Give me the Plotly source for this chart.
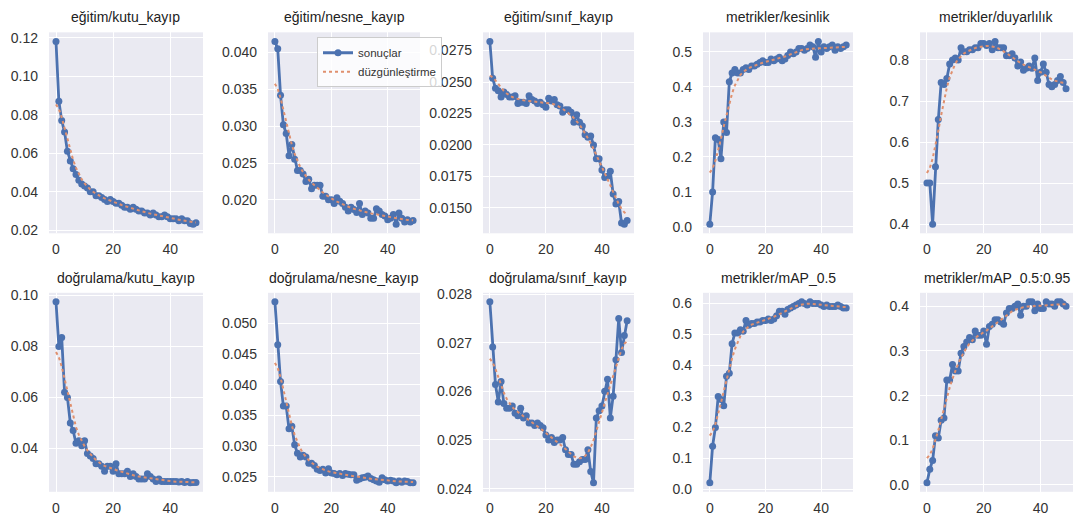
import numpy as np
import plotly.graph_objects as go

epochs = list(range(50))

titles = ["eğitim/kutu_kayıp", "eğitim/nesne_kayıp", "eğitim/sınıf_kayıp",
          "metrikler/kesinlik", "metrikler/duyarlılık",
          "doğrulama/kutu_kayıp", "doğrulama/nesne_kayıp", "doğrulama/sınıf_kayıp",
          "metrikler/mAP_0.5", "metrikler/mAP_0.5:0.95"]

train_box = [0.118, 0.087, 0.077, 0.071, 0.061, 0.056, 0.052, 0.049, 0.046, 0.044,
             0.043, 0.042, 0.040, 0.040, 0.038, 0.038, 0.037, 0.036, 0.035, 0.036,
             0.035, 0.034, 0.034, 0.033, 0.032, 0.032, 0.031, 0.032, 0.031, 0.030,
             0.030, 0.029, 0.029, 0.028, 0.029, 0.028, 0.027, 0.027, 0.028, 0.027,
             0.026, 0.026, 0.026, 0.025, 0.026, 0.025, 0.025, 0.0235, 0.0232, 0.024]
train_obj = [0.0415, 0.0405, 0.0342, 0.0302, 0.029, 0.026, 0.0275, 0.0255, 0.024, 0.024,
             0.0235, 0.0225, 0.0228, 0.0215, 0.022, 0.022, 0.022, 0.0205, 0.0205, 0.020,
             0.020, 0.0195, 0.0203, 0.0198, 0.0195, 0.019, 0.0185, 0.019, 0.0187, 0.0183,
             0.0195, 0.018, 0.0185, 0.0182, 0.0175, 0.0175, 0.0188, 0.0185, 0.018, 0.0178,
             0.0173, 0.0175, 0.018, 0.0167, 0.0182, 0.0175, 0.017, 0.0173, 0.017, 0.0172]
train_cls = [0.02822, 0.0253, 0.0245, 0.0243, 0.0238, 0.0242, 0.0240, 0.0238, 0.0238, 0.0239,
             0.0233, 0.0234, 0.0234, 0.0233, 0.0239, 0.0236, 0.0235, 0.0233, 0.0234, 0.0232,
             0.0230, 0.0237, 0.0235, 0.0236, 0.0232, 0.0231, 0.0226, 0.0228, 0.0228, 0.0226,
             0.0218, 0.0224, 0.0218, 0.0215, 0.0208, 0.0206, 0.0207, 0.0200, 0.0189, 0.0189,
             0.0180, 0.0174, 0.0175, 0.0179, 0.0161, 0.0153, 0.0155, 0.0138, 0.0137, 0.0140]
precision = [0.008, 0.10, 0.255, 0.25, 0.195, 0.30, 0.27, 0.415, 0.44, 0.45,
             0.44, 0.44, 0.45, 0.455, 0.45, 0.46, 0.46, 0.465, 0.47, 0.475,
             0.47, 0.47, 0.48, 0.475, 0.48, 0.485, 0.475, 0.48, 0.49, 0.50,
             0.495, 0.50, 0.51, 0.51, 0.505, 0.51, 0.52, 0.515, 0.485, 0.53,
             0.50, 0.515, 0.51, 0.515, 0.52, 0.505, 0.515, 0.51, 0.515, 0.52]
recall = [0.50, 0.50, 0.40, 0.54, 0.655, 0.745, 0.74, 0.755, 0.79, 0.80,
          0.805, 0.80, 0.83, 0.82, 0.82, 0.825, 0.825, 0.83, 0.83, 0.84,
          0.84, 0.835, 0.84, 0.825, 0.845, 0.83, 0.83, 0.83, 0.81, 0.81,
          0.815, 0.805, 0.785, 0.795, 0.775, 0.78, 0.785, 0.78, 0.805, 0.75,
          0.77, 0.79, 0.77, 0.74, 0.735, 0.74, 0.75, 0.76, 0.745, 0.73]
val_box = [0.0975, 0.080, 0.0835, 0.062, 0.060, 0.050, 0.047, 0.042, 0.043, 0.041,
           0.043, 0.038, 0.037, 0.036, 0.034, 0.034, 0.033, 0.031, 0.033, 0.033,
           0.031, 0.034, 0.030, 0.030, 0.030, 0.031, 0.029, 0.030, 0.029, 0.028,
           0.028, 0.028, 0.030, 0.029, 0.028, 0.027, 0.028, 0.027, 0.027, 0.027,
           0.027, 0.027, 0.027, 0.0268, 0.027, 0.0266, 0.027, 0.0265, 0.0266, 0.0266]
val_obj = [0.0535, 0.0465, 0.0405, 0.0365, 0.0365, 0.0328, 0.0332, 0.0302, 0.0288, 0.0282,
           0.0285, 0.0282, 0.0272, 0.0272, 0.0268, 0.0262, 0.0260, 0.0262, 0.0256, 0.0263,
           0.0256, 0.0255, 0.0253, 0.0255, 0.0252, 0.0255, 0.0254, 0.0253, 0.0253, 0.0244,
           0.0246, 0.0248, 0.0249, 0.0251, 0.0247, 0.0245, 0.0243, 0.0241, 0.0248, 0.0245,
           0.0243, 0.0244, 0.0243, 0.0240, 0.0243, 0.0241, 0.0243, 0.0242, 0.0240, 0.0240]
val_cls = [0.02784, 0.02691, 0.02614, 0.02578, 0.0262, 0.02575, 0.02565, 0.02565, 0.0257, 0.02555,
           0.0255, 0.02565, 0.02545, 0.0255, 0.02535, 0.02535, 0.0253, 0.02535, 0.0253, 0.02525,
           0.0251, 0.0250, 0.02505, 0.02495, 0.0250, 0.0250, 0.02505, 0.0248, 0.0247, 0.0247,
           0.0245, 0.0245, 0.02455, 0.0246, 0.0246, 0.0248, 0.02435, 0.02412, 0.02545, 0.0256,
           0.0257, 0.0260, 0.02625, 0.02545, 0.0259, 0.02665, 0.0275, 0.0268, 0.02715, 0.02745]
map50 = [0.022, 0.14, 0.20, 0.30, 0.29, 0.27, 0.365, 0.375, 0.47, 0.505,
         0.505, 0.515, 0.51, 0.545, 0.53, 0.535, 0.535, 0.54, 0.54, 0.545,
         0.545, 0.55, 0.545, 0.55, 0.56, 0.575, 0.575, 0.565, 0.58, 0.585,
         0.59, 0.595, 0.60, 0.605, 0.60, 0.595, 0.605, 0.60, 0.60, 0.60,
         0.595, 0.59, 0.595, 0.59, 0.59, 0.59, 0.595, 0.59, 0.585, 0.585]
map5095 = [0.005, 0.035, 0.055, 0.11, 0.105, 0.145, 0.15, 0.235, 0.235, 0.27,
           0.255, 0.255, 0.295, 0.31, 0.32, 0.33, 0.325, 0.345, 0.335, 0.335,
           0.345, 0.315, 0.355, 0.36, 0.37, 0.37, 0.365, 0.36, 0.385, 0.395,
           0.395, 0.40, 0.405, 0.38, 0.40, 0.40, 0.41, 0.41, 0.39, 0.405,
           0.395, 0.395, 0.41, 0.405, 0.405, 0.40, 0.41, 0.41, 0.405, 0.40]

series = [train_box, train_obj, train_cls, precision, recall,
          val_box, val_obj, val_cls, map50, map5095]
dticks = [0.02, 0.005, 0.0025, 0.1, 0.1, 0.02, 0.005, 0.001, 0.1, 0.1]
fmts = [".2f", ".3f", ".4f", ".1f", ".1f", ".2f", ".3f", ".3f", ".1f", ".1f"]


def smooth(y, sigma=3.0):
    y = np.asarray(y, float)
    r = int(4 * sigma + 0.5)
    k = np.exp(-0.5 * (np.arange(-r, r + 1) / sigma) ** 2)
    k /= k.sum()
    p = np.pad(y, r, mode="symmetric")
    return np.convolve(p, k, mode="valid")


W, H = 1081, 530
col_px = [(49, 203), (268, 420), (483, 634), (703, 853), (920, 1073)]
row_px = [(26, 232), (293, 497)]

BLUE = "#4C72B0"
ORANGE = "#E0906E"
TXT = "#333333"

fig = go.Figure()
layout = {}
annotations = []
for i, (y, title) in enumerate(zip(series, titles)):
    r, c = divmod(i, 5)
    ax = i + 1
    xa = "x" if ax == 1 else f"x{ax}"
    ya = "y" if ax == 1 else f"y{ax}"
    sm = smooth(y)
    fig.add_trace(go.Scatter(x=epochs, y=y, mode="lines+markers", name="sonuçlar",
                             line=dict(color=BLUE, width=2.8),
                             marker=dict(color=BLUE, size=7),
                             xaxis=xa, yaxis=ya, showlegend=(i == 1)))
    fig.add_trace(go.Scatter(x=epochs, y=sm, mode="lines", name="düzgünleştirme",
                             line=dict(color=ORANGE, width=2, dash="dot"),
                             xaxis=xa, yaxis=ya, showlegend=(i == 1)))
    lo = min(min(y), sm.min())
    hi = max(max(y), sm.max())
    pad = (hi - lo) * 0.05
    x0, x1 = col_px[c]
    t0, t1 = row_px[r]
    xdom = [x0 / W, x1 / W]
    ydom = [1 - t1 / H, 1 - t0 / H]
    kx = "xaxis" if ax == 1 else f"xaxis{ax}"
    ky = "yaxis" if ax == 1 else f"yaxis{ax}"
    layout[kx] = dict(domain=xdom, anchor=ya, range=[-2.45, 51.45], dtick=20, tick0=0,
                      showgrid=True, gridcolor="white", gridwidth=1.2, zeroline=False,
                      showline=False, ticks="", ticklabelstandoff=6,
                      tickfont=dict(size=14, color=TXT))
    layout[ky] = dict(domain=ydom, anchor=xa, range=[lo - pad, hi + pad], dtick=dticks[i],
                      tick0=0, tickformat=fmts[i],
                      showgrid=True, gridcolor="white", gridwidth=1.2, zeroline=False,
                      showline=False, ticks="", ticklabelstandoff=10,
                      tickfont=dict(size=14, color=TXT))
    annotations.append(dict(text=title, x=(xdom[0] + xdom[1]) / 2, y=ydom[1] + 5 / H,
                            xref="paper", yref="paper", xanchor="center", yanchor="bottom",
                            showarrow=False, font=dict(size=14, color="#222222")))

fig.update_layout(**layout)
fig.update_layout(
    width=W, height=H, margin=dict(l=0, r=0, t=0, b=0),
    paper_bgcolor="white", plot_bgcolor="#EAEAF2",
    font=dict(family="Liberation Sans, Arial, sans-serif", color=TXT),
    annotations=annotations,
    legend=dict(x=317 / W, y=1 - 31 / H, xanchor="left", yanchor="top",
                bgcolor="rgba(255,255,255,0.8)", bordercolor="#CCCCCC", borderwidth=1,
                font=dict(size=11.5, color=TXT), itemwidth=30, tracegroupgap=0),
)
fig.write_html("out.html", config={"displayModeBar": False},
               post_script="document.body.style.margin='0';document.body.style.overflow='hidden';")
